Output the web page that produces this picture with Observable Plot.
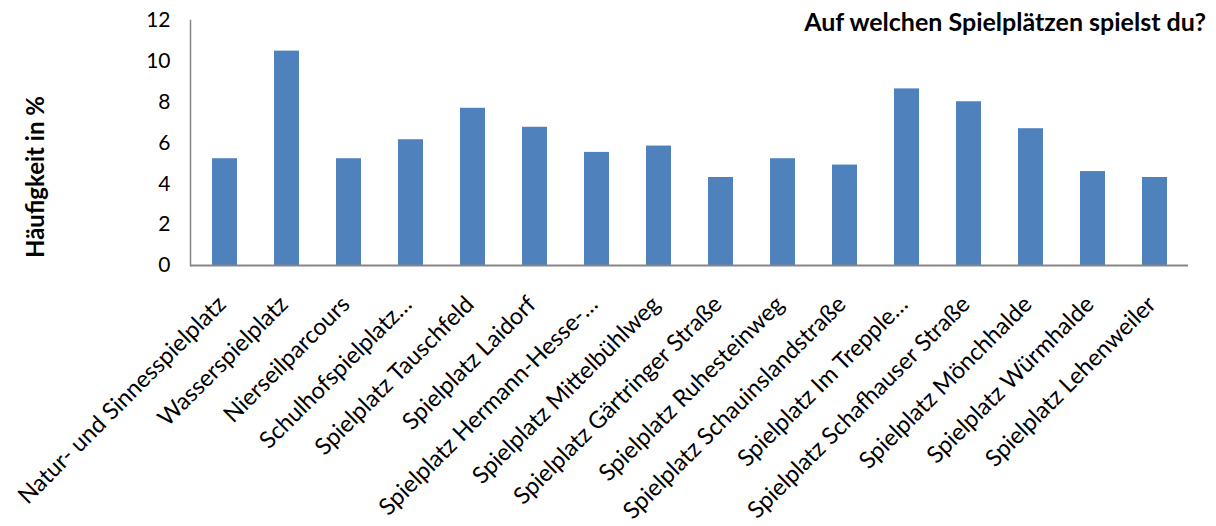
<!DOCTYPE html>
<html><head><meta charset="utf-8">
<script src="https://cdn.jsdelivr.net/npm/d3@7"></script>
<script src="https://cdn.jsdelivr.net/npm/@observablehq/plot@0.6"></script>
<style>
body{margin:0;background:#fff;font-family:Lato, sans-serif;}
#wrap{position:relative;width:1216px;height:526px;}
#title{position:absolute; right:10px; top:6px; font-weight:bold; font-size:25px; color:#000; font-family:Lato, sans-serif; line-height:1.2;}
</style></head><body><div id="wrap"><div id="title">Auf welchen Spielplätzen spielst du?</div></div>
<script>
const categories = [
  "Natur- und Sinnesspielplatz",
  "Wasserspielplatz",
  "Nierseilparcours",
  "Schulhofspielplatz…",
  "Spielplatz Tauschfeld",
  "Spielplatz Laidorf",
  "Spielplatz Hermann-Hesse-…",
  "Spielplatz Mittelbühlweg",
  "Spielplatz Gärtringer Straße",
  "Spielplatz Ruhesteinweg",
  "Spielplatz Schauinslandstraße",
  "Spielplatz Im Trepple…",
  "Spielplatz Schafhauser Straße",
  "Spielplatz Mönchhalde",
  "Spielplatz Würmhalde",
  "Spielplatz Lehenweiler"
];
const values = [5.23, 10.5, 5.23, 6.16, 7.7, 6.77, 5.54, 5.85, 4.31, 5.23, 4.92, 8.65, 8.02, 6.7, 4.6, 4.31];
const yTicks = [0, 2, 4, 6, 8, 10, 12];
const yLabel = "Häufigkeit in %";

const data = categories.map((c, i) => ({name: c, value: values[i]}));

const chart = Plot.plot({
  width: 1216, height: 526,
  marginLeft: 190, marginRight: 28, marginTop: 20, marginBottom: 261,
  style: {fontFamily: "Lato, sans-serif", fontSize: "20px", background: "white", color: "#000"},
  x: {domain: categories, paddingInner: 0.6, paddingOuter: 0.3, label: null},
  y: {domain: [0, 12], label: null},
  marks: [
    Plot.barY(data, {x: "name", y: "value", fill: "#4f81bd"}),
    Plot.frame({anchor: "left", stroke: "#868686", strokeWidth: 1.5}),
    Plot.ruleY([0], {stroke: "#868686", strokeWidth: 2}),
    Plot.axisY({ticks: yTicks, tickSize: 0, tickPadding: 20, fontSize: 21, label: null}),
    Plot.axisX({tickRotate: -45, tickSize: 0, tickPadding: 35, dx: -3, fontSize: 23.5, label: null}),
    Plot.text([yLabel], {text: d => d, frameAnchor: "left", textAnchor: "middle", rotate: -90, dx: -154, dy: 34, fontWeight: "bold", fontSize: 24})
  ]
});
document.getElementById("wrap").appendChild(chart);
</script>
</body></html>
